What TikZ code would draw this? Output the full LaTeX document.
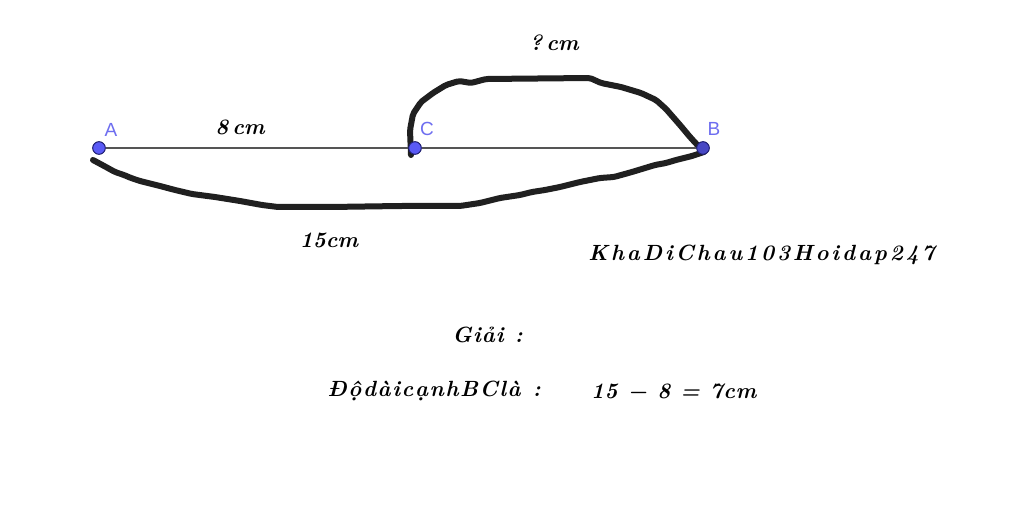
\documentclass[tikz,border=0pt]{standalone}
\usepackage{fontspec}
\newfontfamily\labelfont{Liberation Sans}
\ExplSyntaxOn
\NewDocumentCommand\spacedtext{m m}{\tl_map_inline:nn {#2}{##1\hspace{#1}}\hspace{-#1}}
\ExplSyntaxOff
\begin{document}
\begin{tikzpicture}[x=1pt,y=-1pt,
  pt/.style={circle,draw=ptedge,fill=ptfill,line width=0.8pt,minimum size=12.5pt,inner sep=0pt},
  ptlabel/.style={text=lblue,font=\labelfont\fontsize{19}{19}\selectfont,inner sep=0pt},
  seg/.style={draw=seggray,line width=1.6pt},
  hand/.style={draw=handblack,line width=6pt,line cap=round,line join=round,rounded corners=2pt},
  geo/.style={inner sep=0pt,font=\fontsize{22}{22}\bfseries\itshape\selectfont},
]
\definecolor{ptfill}{RGB}{90,90,245}
\definecolor{ptedge}{RGB}{30,30,110}
\definecolor{lblue}{RGB}{110,110,240}
\definecolor{seggray}{RGB}{85,85,85}
\definecolor{handblack}{RGB}{32,32,32}
\useasboundingbox[fill=white] (0,0) rectangle (1024,521);

% lower freehand curve (15cm)
\coordinate (l0) at (93,160);
\draw[hand] (l0) -- (106,167) -- (115,172) -- (124,175) -- (131,178) -- (140,181) -- (160,186) -- (175,190) -- (192,194)
  -- (215,197) -- (240,201) -- (262,205) -- (278,207) -- (330,207) -- (400,206) -- (460,206)
  -- (480,203) -- (500,198) -- (520,195) -- (532,192) -- (545,190) -- (560,187) -- (580,182) -- (600,178) -- (614,177)
  -- (632,172) -- (655,165) -- (666,163) -- (676,160) -- (692,156) -- (704,152);

% upper freehand curve (?cm)
\coordinate (u0) at (411,155);
\draw[hand] (u0) -- (410,130) -- (413,114) -- (421,102) -- (433,93) -- (446,85)
  -- (459,81) -- (471,83) -- (486,79) -- (590,78) -- (601,83) -- (621,87)
  -- (641,93) -- (656,100) -- (666,109) -- (680,125) -- (690,137) -- (702,150);

% segment and points
\node[pt] (A) at (99,148) {};
\node[pt] (C) at (415,148) {};
\node[pt] (B) at (703,148) {};
\draw[seg] (A) -- (C);
\draw[seg] (C) -- (B);
\node[pt] at (A) {};
\node[pt] at (C) {};
\node[pt,fill=ptfill!80!black] at (B) {};

\node[ptlabel] (lA) at (111,130) {A};
\node[ptlabel] (lC) at (427,129) {C};
\node[ptlabel] (lB) at (714,129) {B};

% texts
\node[geo] (t8) at (240,127) {8\hspace{4pt}cm};
\node[geo] (tq) at (554,43) {?\hspace{4pt}cm};
\node[geo] (t15) at (329,240) {15cm};
\node[geo] (tk) at (763,255) {\spacedtext{2.9pt}{KhaDiChau103Hoidap247}};
\node[geo] (tg) at (488,335) {\spacedtext{1pt}{Giải\ :}};
\node[geo] (td) at (435,391) {\spacedtext{1.6pt}{ĐộdàicạnhBClà\ :}};
\node[geo] (te) at (674,391) {\spacedtext{0.5pt}{15\ −\ 8\ =\ 7cm}};
\end{tikzpicture}
\end{document}
